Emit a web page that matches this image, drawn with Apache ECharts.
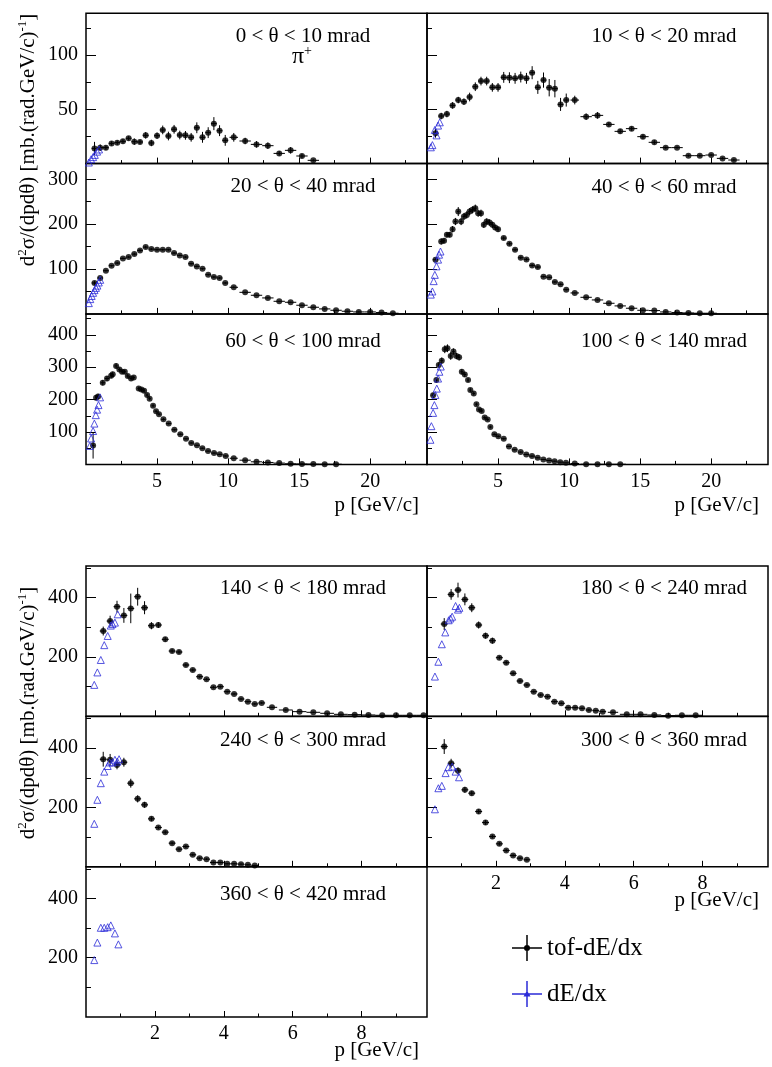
<!DOCTYPE html>
<html><head><meta charset="utf-8">
<script src="https://cdn.jsdelivr.net/npm/echarts@6/dist/echarts.min.js"></script>
<style>html,body{margin:0;padding:0;background:#fff}#c{width:772px;height:1067px}</style>
</head><body><div id="c"></div>
<script>
// ---------------- DATA ----------------
const titleTexts = ['0 < θ < 10 mrad','10 < θ < 20 mrad','20 < θ < 40 mrad','40 < θ < 60 mrad','60 < θ < 100 mrad','100 < θ < 140 mrad','140 < θ < 180 mrad','180 < θ < 240 mrad','240 < θ < 300 mrad','300 < θ < 360 mrad','360 < θ < 420 mrad'];
const xTitle = 'p [GeV/c]';
const legendNames = ['tof-dE/dx','dE/dx'];

const xMajorTop = [5,10,15,20];
const xMinorTop = [2.5,7.5,12.5,17.5,22.5];
const xMajorBot = [2,4,6,8];
const xMinorBot = [1,3,5,7,9];
const yMajorT1 = [50,100];          const yMinorT1 = [25,75,125];
const yMajorT2 = [100,200,300];     const yMinorT2 = [50,150,250];
const yMajorT3 = [100,200,300,400]; const yMinorT3 = [50,150,250,350,450];
const yMajorB  = [200,400];         const yMinorB  = [100,300,500];

// 0 < theta < 10
const tofP1 = [0.6,1.0,1.4,1.8,2.2,2.6,3.0,3.4,3.8,4.2,4.6,5.0,5.4,5.8,6.2,6.6,7.0,7.4,7.8,8.2,8.6,9.0,9.4,9.8,10.4,11.2,12.0,12.8,13.6,14.4,15.2,16.0];
const tofV1 = [14,14.7,14.7,18.6,19.3,20.5,23.3,20.2,19.9,26,19,25.7,31,25.4,31.6,26.3,26,24.2,33,24.2,28.5,36.8,30.3,21.4,24.2,20.8,17.7,16.5,9.4,12.2,7,3];
const tofE1 = [6,3,2,2,2,2,2,3,2,3,3,3,4,4,4,4,4,4,5,5,5,6,5,5,4,3,3,3,2,3,2,1];
const dedxP1 = [0.2,0.36,0.5,0.62,0.78,0.92];
const dedxV1 = [1,4,6,8,11,13];
// 10 < theta < 20
const tofP2 = [0.6,1.0,1.4,1.8,2.2,2.6,3.0,3.4,3.8,4.2,4.6,5.0,5.4,5.8,6.2,6.6,7.0,7.4,7.8,8.2,8.6,9.0,9.4,9.8,10.4,11.2,12.0,12.8,13.6,14.4,15.2,16.0,16.8,17.6,18.4,19.2,20.0,20.8,21.6];
const tofV2 = [27.9,43.8,45.6,53.6,58.5,57,61.3,70.8,76,76,70.2,70.2,79.4,79.1,78.5,79.7,78.5,83.7,70.2,76.9,69.9,69,54.5,58.5,58.5,43.2,44.4,36.1,29.7,32.2,24.8,19.6,14.7,14.7,7.3,7.3,7.9,4.8,3.3];
const tofE2 = [4,3,3,3,3,3,4,4,4,4,4,4,5,5,5,5,5,6,6,7,8,8,6,6,4,3,3,2,2,2,2,2,1,1,1,1,1,1,1];
const dedxP2 = [0.27,0.38,0.55,0.67,0.78,0.9];
const dedxV2 = [15,17,31,26,35,38];
// 20 < theta < 40
const tofP3 = [0.6,1.0,1.4,1.8,2.2,2.6,3.0,3.4,3.8,4.2,4.6,5.0,5.4,5.8,6.2,6.6,7.0,7.4,7.8,8.2,8.6,9.0,9.4,9.8,10.4,11.2,12.0,12.8,13.6,14.4,15.2,16.0,16.8,17.6,18.4,19.2,20.0,20.8,21.6];
const tofV3 = [68.9,80,96.3,107.4,113.3,123.7,126.7,133.3,141.5,148.9,144.4,143,143,143,135.6,130.4,126.7,111.9,105.9,100.7,87.4,82.2,80,68.9,59.3,48.1,41.5,35.6,28.1,25.9,19.3,14.8,11.1,8.1,5.9,4.4,4.4,3,1.5];
const tofE3 = [4,2,2,2,2,2,2,3,3,3,2,2,2,2,2,2,2,2,2,2,2,2,2,2,2,1,1,1,1,1,1,1,1,1,1,1,1,1,1];
const dedxP3 = [0.2,0.3,0.4,0.5,0.6,0.7,0.8,0.9,1.0];
const dedxV3 = [24,33,40,47,53,58,63,70,76];
// 40 < theta < 60
const tofP4 = [0.6,1.0,1.2,1.4,1.6,1.8,2.0,2.2,2.4,2.6,2.8,3.0,3.2,3.4,3.6,3.8,4.0,4.2,4.4,4.6,4.8,5.0,5.4,5.8,6.2,6.6,7.0,7.4,7.8,8.2,8.6,9.0,9.4,9.8,10.4,11.2,12.0,12.8,13.6,14.4,15.2,16.0,16.8,17.6,18.4,19.2,20.0];
const tofV4 = [120.7,161.5,163,176.3,176.3,188.9,205.9,228.1,205.9,217,220.7,228.1,231.9,235.6,224.4,224.4,198.5,205.9,203.7,198.5,192.6,188.9,168.9,156.3,143,125.2,121.5,108.1,104.4,83,81.5,71.1,65.9,54.1,46.7,37,31.1,23.7,17.8,12.6,8.1,7.4,4.4,3,2.2,1.5,1.5];
const tofE4 = [5,7,6,6,6,7,8,10,8,8,8,8,8,8,8,8,7,7,7,7,6,6,4,4,3,3,3,3,3,2,2,2,2,2,1,1,1,1,1,1,1,1,1,1,1,1,1];
const dedxP4 = [0.27,0.38,0.47,0.55,0.67,0.78,0.85,0.95];
const dedxV4 = [43,50,73,87,106,121,132,139];
// 60 < theta < 100
const tofP5 = [0.5,0.71,0.85,1.18,1.48,1.77,1.88,2.12,2.35,2.54,2.73,2.94,3.17,3.36,3.71,3.9,4.09,4.3,4.48,4.72,4.93,5.14,5.45,5.82,6.22,6.64,7.04,7.41,7.81,8.19,8.59,9.01,9.41,9.83,10.4,11.2,12.0,12.8,13.6,14.4,15.2,16.0,16.8,17.6];
const tofV5 = [58,206,210,252,265,274,278,304,293,286,286,273,265,268,234,231,227,214,203,181,164,155,139,126,107,93,79,66,59,50,41,35,31,26,19,13,8,6,4,2,1.5,1,0.8,0.5];
const tofE5 = [40,8,8,8,8,8,8,8,6,6,6,6,6,6,6,6,6,5,5,5,4,4,4,3,3,3,2,2,2,2,2,2,2,2,1,1,1,1,1,1,1,1,1,1];
const dedxP5 = [0.27,0.36,0.5,0.59,0.69,0.78,0.88,0.99];
const dedxV5 = [57,80,103,126,152,169,183,207];
// 100 < theta < 140
const tofP6 = [0.43,0.66,0.83,1.04,1.25,1.44,1.67,1.86,2.07,2.26,2.45,2.66,2.89,3.05,3.29,3.48,3.66,3.85,4.06,4.27,4.46,4.74,5.02,5.4,5.77,6.17,6.59,6.99,7.39,7.79,8.19,8.59,8.98,9.38,9.78,10.4,11.2,12.0,12.8,13.6];
const tofV6 = [213.7,260.3,306.8,320.2,355.4,358.5,334.7,348.2,334.7,330.6,286.1,277.8,260.3,229.3,218.9,185.8,169.3,165.1,144.5,138.3,115.5,92.8,86.6,79.3,55.5,45.2,38,30.7,25.6,20.4,15.2,12.1,10,6.9,4.8,2.8,0.7,0.5,0.5,0.5];
const tofE6 = [8,8,8,10,12,12,12,10,10,10,8,8,6,6,6,5,5,5,4,4,4,3,3,3,2,2,2,2,2,1,1,1,1,1,1,1,1,1,1,1];
const dedxP6 = [0.24,0.31,0.43,0.52,0.59,0.69,0.78,0.87,0.97];
const dedxV6 = [76,118,159,183,214,234,265,286,302];
// 140 < theta < 180
const tofP7 = [0.5,0.7,0.9,1.1,1.3,1.5,1.7,1.9,2.1,2.3,2.5,2.7,2.9,3.1,3.3,3.5,3.7,3.9,4.1,4.3,4.5,4.7,4.9,5.1,5.4,5.8,6.2,6.6,7.0,7.4,7.8,8.2,8.6,9.0,9.4,9.8];
const tofV7 = [287.6,321.3,369.7,340.4,364,403.4,366.3,305.6,307.9,259.6,220.2,216.9,173,156.2,133.7,124.7,97.8,100,83.1,75.3,58.4,49.4,41.6,45,30.3,21.3,15.7,13.5,10.1,6.7,5.6,4.5,3.4,3.4,3.4,3.4];
const tofE7 = [15,18,20,25,50,30,22,12,10,8,6,6,5,5,4,4,4,4,3,3,3,3,3,3,2,2,2,2,1,1,1,1,1,1,1,1];
const dedxP7 = [0.24,0.33,0.43,0.53,0.63,0.72,0.77,0.84,0.92];
const dedxV7 = [106,148,190,240,271,306,311,316,344];
// 180 < theta < 240
const tofP8 = [0.5,0.7,0.9,1.1,1.3,1.5,1.7,1.9,2.1,2.3,2.5,2.7,2.9,3.1,3.3,3.5,3.7,3.9,4.1,4.3,4.5,4.7,4.9,5.1,5.4,5.8,6.2,6.6,7.0,7.4,7.8];
const tofV8 = [311.2,411.2,425.8,394.4,366.3,307.9,271.9,255.1,197.8,180.9,144.9,119.1,105.6,83.1,71.9,66.3,49.4,43.8,29.2,29.2,27,21.3,19.1,15.7,13.5,6.7,6.7,4.5,2.2,3.4,3.4];
const tofE8 = [20,18,25,20,15,12,10,10,6,6,5,5,4,4,4,4,3,3,3,3,3,3,2,2,2,1,1,1,1,1,1];
const dedxP8 = [0.23,0.33,0.43,0.53,0.63,0.68,0.73,0.83,0.9,0.94];
const dedxV8 = [134,184,243,283,324,330,336,372,360,366];
// 240 < theta < 300
const tofP9 = [0.5,0.7,0.9,1.1,1.3,1.5,1.7,1.9,2.1,2.3,2.5,2.7,2.9,3.1,3.3,3.5,3.7,3.9,4.1,4.3,4.5,4.7,4.9];
const tofV9 = [362.9,360.7,343.8,352.8,282,229.2,209,161.8,132.6,116.9,79.8,59.6,68.5,40.4,29.2,25.8,14.6,14.6,10.1,10.1,9,6.7,4.5];
const tofE9 = [25,20,15,15,15,12,10,8,6,6,5,5,5,4,4,3,3,3,2,2,2,2,2];
const dedxP9 = [0.24,0.33,0.43,0.53,0.63,0.69,0.77,0.84,0.91,0.96];
const dedxV9 = [145,226,282,321,340,352,352,361,355,363];
// 300 < theta < 360
const tofP10 = [0.5,0.7,0.9,1.1,1.3,1.5,1.7,1.9,2.1,2.3,2.5,2.7,2.9];
const tofV10 = [405.6,349.4,323.6,259.6,248.3,186.5,149.4,102.2,77.5,55.1,38.2,29.2,23.6];
const tofE10 = [25,15,12,10,8,8,8,6,6,5,4,3,3];
const dedxP10 = [0.23,0.33,0.43,0.54,0.62,0.73,0.83,0.93];
const dedxV10 = [194,265,273,316,336,338,321,302];
// 360 < theta < 420
const dedxP11 = [0.24,0.33,0.43,0.53,0.63,0.72,0.84,0.94];
const dedxV11 = [192,251,301,301,303,309,282,245];

// ---------------- LAYOUT ----------------
const FONT = '"Liberation Serif","Times New Roman",serif';
const BLUE = '#2b2bd8';
const COLX = [86, 427], PW = 341;
const TOPY = [13.3, 163.6, 314.1], BOTY = [566, 716.5, 866.7], PH = 150.3;
const YCFG = {
  T0:{max:138.4, major:yMajorT1, minor:yMinorT1},
  T1:{max:335, major:yMajorT2, minor:yMinorT2},
  T2:{max:464, major:yMajorT3, minor:yMinorT3},
  B:{max:507, major:yMajorB, minor:yMinorB}
};
const panels = [
  {blk:'T',row:0,col:0,tp:tofP1,tv:tofV1,te:tofE1,dp:dedxP1,dv:dedxV1,ty:36},
  {blk:'T',row:0,col:1,tp:tofP2,tv:tofV2,te:tofE2,dp:dedxP2,dv:dedxV2,ty:36},
  {blk:'T',row:1,col:0,tp:tofP3,tv:tofV3,te:tofE3,dp:dedxP3,dv:dedxV3,ty:186.7},
  {blk:'T',row:1,col:1,tp:tofP4,tv:tofV4,te:tofE4,dp:dedxP4,dv:dedxV4,ty:187.3},
  {blk:'T',row:2,col:0,tp:tofP5,tv:tofV5,te:tofE5,dp:dedxP5,dv:dedxV5,ty:341.7,xl:true},
  {blk:'T',row:2,col:1,tp:tofP6,tv:tofV6,te:tofE6,dp:dedxP6,dv:dedxV6,ty:341.7,xl:true},
  {blk:'B',row:0,col:0,tp:tofP7,tv:tofV7,te:tofE7,dp:dedxP7,dv:dedxV7,ty:588.3},
  {blk:'B',row:0,col:1,tp:tofP8,tv:tofV8,te:tofE8,dp:dedxP8,dv:dedxV8,ty:588.3},
  {blk:'B',row:1,col:0,tp:tofP9,tv:tofV9,te:tofE9,dp:dedxP9,dv:dedxV9,ty:740},
  {blk:'B',row:1,col:1,tp:tofP10,tv:tofV10,te:tofE10,dp:dedxP10,dv:dedxV10,ty:740,xl:true},
  {blk:'B',row:2,col:0,tp:null,tv:null,te:null,dp:dedxP11,dv:dedxV11,ty:894.3,xl:true}
];

const grids=[], xAxes=[], yAxes=[], series=[], graphics=[];
const labelStyle = {color:'#000', fontSize:20, fontFamily:FONT};

function errRender(params, api){
  const x=api.value(0), y=api.value(1), e=api.value(2), h=api.value(3);
  const a=api.coord([x,y-e]), b=api.coord([x,y+e]);
  const l=api.coord([x-h,y]), r=api.coord([x+h,y]);
  return {type:'group', children:[
    {type:'line', shape:{x1:a[0],y1:a[1],x2:b[0],y2:b[1]}, style:{stroke:'#000',lineWidth:1}},
    {type:'line', shape:{x1:l[0],y1:l[1],x2:r[0],y2:r[1]}, style:{stroke:'#000',lineWidth:1}}
  ]};
}

panels.forEach((pn,i)=>{
  const top = (pn.blk==='T'?TOPY:BOTY)[pn.row];
  const left = COLX[pn.col];
  grids.push({left:left, top:top, width:PW, height:PH, show:true, borderColor:'#000', borderWidth:1.5,
              backgroundColor:'transparent', containLabel:false, outerBoundsMode:'none'});
  const isT = pn.blk==='T';
  const xmin=0, xmax = isT?24:9.9;
  const xmaj = isT?xMajorTop:xMajorBot, xmin_ = isT?xMinorTop:xMinorBot;
  const yc = isT?YCFG['T'+pn.row]:YCFG.B;
  xAxes.push({type:'value', gridIndex:i, position:'bottom', min:xmin, max:xmax,
    axisLine:{show:false}, splitLine:{show:false},
    axisTick:{show:true, inside:true, length:6, customValues:xmaj, lineStyle:{color:'#000',width:1}},
    axisLabel:{show:!!pn.xl, customValues:xmaj, margin:7, ...labelStyle}});
  xAxes.push({type:'value', gridIndex:i, position:'bottom', offset:0, min:xmin, max:xmax,
    axisLine:{show:false}, splitLine:{show:false},
    axisTick:{show:true, inside:true, length:3.5, customValues:xmin_, lineStyle:{color:'#000',width:1}},
    axisLabel:{show:false}});
  yAxes.push({type:'value', gridIndex:i, position:'left', min:0, max:yc.max,
    axisLine:{show:false}, splitLine:{show:false},
    axisTick:{show:true, inside:true, length:10, customValues:yc.major, lineStyle:{color:'#000',width:1}},
    axisLabel:{show:pn.col===0, customValues:yc.major, margin:8, ...labelStyle}});
  yAxes.push({type:'value', gridIndex:i, position:'left', offset:0, min:0, max:yc.max,
    axisLine:{show:false}, splitLine:{show:false},
    axisTick:{show:true, inside:true, length:5, customValues:yc.minor, lineStyle:{color:'#000',width:1}},
    axisLabel:{show:false}});
  const xi=2*i, yi=2*i;
  if(pn.tp){
    const rows = pn.tp.map((p,k)=>{
      const prev = k>0?p-pn.tp[k-1]:Infinity, next = k<pn.tp.length-1?pn.tp[k+1]-p:Infinity;
      return [p, pn.tv[k], pn.te[k], Math.min(prev,next)/2];
    });
    series.push({type:'custom', name:legendNames[0], xAxisIndex:xi, yAxisIndex:yi, renderItem:errRender,
      clip:true, data:rows, z:3, silent:true});
    series.push({type:'scatter', name:legendNames[0], xAxisIndex:xi, yAxisIndex:yi, symbol:'circle', symbolSize:6,
      itemStyle:{color:'#000'}, data:pn.tp.map((p,k)=>[p,pn.tv[k]]), z:4, silent:true});
  }
  series.push({type:'scatter', name:legendNames[1], xAxisIndex:xi, yAxisIndex:yi, symbol:'triangle', symbolSize:7,
    itemStyle:{color:'rgba(0,0,0,0)', borderColor:BLUE, borderWidth:1}, data:pn.dp.map((p,k)=>[p,pn.dv[k]]), z:5, silent:true});
  graphics.push({type:'text', x:(pn.col===0?303:664), y:pn.ty, silent:true,
    style:{text:titleTexts[i], font:'21px '+FONT, fill:'#000', align:'center', verticalAlign:'middle'}});
});

// pi+ label
graphics.push({type:'text', x:302, y:57, silent:true,
  style:{text:'π{s|+}', fontSize:24, fontFamily:FONT, fill:'#000', align:'center', verticalAlign:'middle', lineHeight:26,
    rich:{s:{fontSize:14, fontFamily:FONT, verticalAlign:'top', lineHeight:26, fill:'#000'}}}});
// y titles
const yTitle = 'd{s|2}σ/(dpdθ) [mb.(rad.GeV/c){s|-1}]';
[140, 713].forEach(cy=>{
  graphics.push({type:'text', x:28, y:cy, rotation:Math.PI/2, silent:true,
    style:{text:yTitle, fontSize:21, fontFamily:FONT, fill:'#000', align:'center', verticalAlign:'middle', lineHeight:24,
      rich:{s:{fontSize:13, fontFamily:FONT, verticalAlign:'top', lineHeight:24, fill:'#000'}}}});
});
// x titles
[[419,505],[759,505],[759,900],[419,1050]].forEach(([x,y])=>{
  graphics.push({type:'text', x:x, y:y, silent:true,
    style:{text:xTitle, font:'21px '+FONT, fill:'#000', align:'right', verticalAlign:'middle'}});
});

const iconTof = 'path://M0,12.25h30v1.5h-30z M14.25,0h1.5v26h-1.5z M12,13a3,3 0 1,1 6,0a3,3 0 1,1 -6,0z';
const iconDedx = 'path://M0,12.25h30v1.5h-30z M14.25,0h1.5v26h-1.5z M11.5,15.5L15,9.5L18.5,15.5z';

const chart = echarts.init(document.getElementById('c'), null, {renderer:'canvas'});
chart.setOption({
  animation:false,
  backgroundColor:'#fff',
  grid:grids, xAxis:xAxes, yAxis:yAxes, series:series,
  legend:{orient:'vertical', left:507, top:930, itemWidth:30, itemHeight:26, itemGap:20, selectedMode:false,
    textStyle:{fontSize:25, fontFamily:FONT, color:'#000'},
    data:[{name:legendNames[0], icon:iconTof, itemStyle:{color:'#000', borderWidth:0, opacity:1}},
          {name:legendNames[1], icon:iconDedx, itemStyle:{color:BLUE, borderWidth:0, opacity:1}}]},
  graphic:graphics
});
</script></body></html>
